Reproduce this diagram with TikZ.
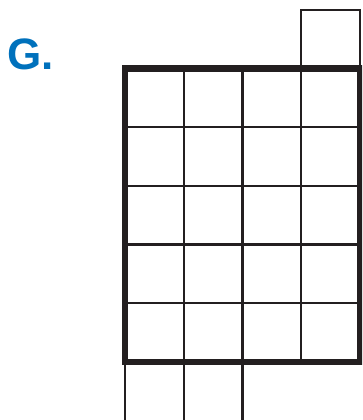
\documentclass[tikz,border=0pt]{standalone}
\usepackage{fontspec}
\setmainfont{Liberation Sans}
\definecolor{ink}{HTML}{231F20}
\definecolor{gblue}{HTML}{0071BC}
\begin{document}
\begin{tikzpicture}[x=1pt,y=-1pt,
  thin line/.style={draw=ink,line width=2.4pt},
  thick line/.style={draw=ink,line width=6.6pt,line join=miter},
  label text/.style={text=gblue,font=\fontsize{44}{44}\selectfont\bfseries,anchor=base west,inner sep=0pt}]
\useasboundingbox (0,0) rectangle (362,420);
\clip (0,0) rectangle (362,420);
% coordinates
\coordinate (tl) at (125,68.3);
\coordinate (br) at (359.8,362);
% inner grid lines
\foreach \x in {183.7,242.4,301.1}
  \draw[thin line] (\x,68.3) -- (\x,362);
\foreach \y in {127,185.7,244.4,303.2}
  \draw[thin line] (125,\y) -- (359.8,\y);
% extra cell on top right
\draw[thin line] (301.1,68.3) -- (301.1,9.8) -- (359.8,9.8) -- (359.8,68.3);
% cells below bottom left
\foreach \x in {125,183.7,242.4}
  \draw[thin line] (\x,362) -- (\x,425);
% thick border
\draw[thick line] (tl) rectangle (br);
% label
\node[label text] (g) at (7.5,70) {G.};
\end{tikzpicture}
\end{document}
